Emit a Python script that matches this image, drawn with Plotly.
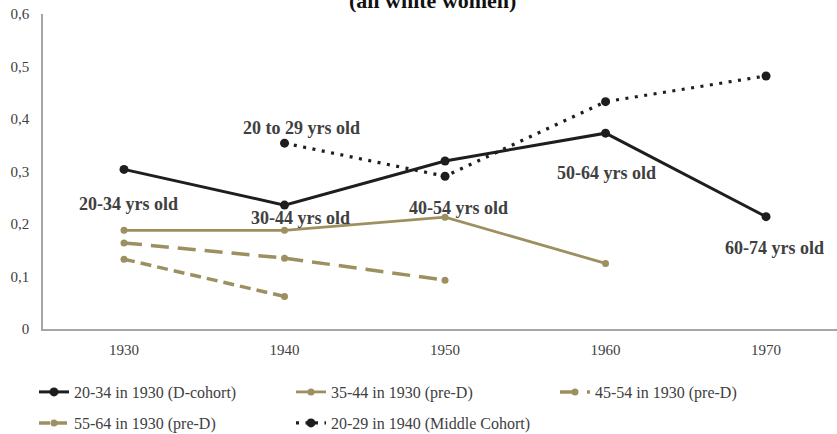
import plotly.graph_objects as go

years = [1930, 1940, 1950, 1960, 1970]

d_cohort = [0.304, 0.236, 0.320, 0.373, 0.214]
pre_d_35_44 = [0.188, 0.188, 0.213, 0.125]
pre_d_45_54 = [0.164, 0.135, 0.093]
pre_d_55_64 = [0.133, 0.062]
middle_years = [1940, 1950, 1960, 1970]
middle_cohort = [0.354, 0.291, 0.433, 0.482]

label_text = ["20 to 29 yrs old", "20-34 yrs old", "30-44 yrs old",
              "40-54 yrs old", "50-64 yrs old", "60-74 yrs old"]
label_x = [1941.03, 1930.25, 1940.97, 1950.84, 1960.03, 1970.53]
label_y = [0.383, 0.238, 0.211, 0.230, 0.297, 0.154]

BLACK = "#1e1e1e"
OLIVE = "#9d9060"
FONT = "Liberation Serif, Times New Roman, serif"

fig = go.Figure()
fig.add_trace(go.Scatter(x=years, y=d_cohort, name="20-34 in 1930 (D-cohort)",
                         mode="lines+markers", line=dict(color=BLACK, width=3),
                         marker=dict(size=9, color=BLACK), legend="legend"))
fig.add_trace(go.Scatter(x=years[:4], y=pre_d_35_44, name="35-44 in 1930 (pre-D)",
                         mode="lines+markers", line=dict(color=OLIVE, width=2.8),
                         marker=dict(size=7, color=OLIVE), legend="legend"))
fig.add_trace(go.Scatter(x=years[:3], y=pre_d_45_54, name="45-54 in 1930 (pre-D)",
                         mode="lines+markers", line=dict(color=OLIVE, width=3.5, dash="18px,9px"),
                         marker=dict(size=7, color=OLIVE), legend="legend3"))
fig.add_trace(go.Scatter(x=years[:2], y=pre_d_55_64, name="55-64 in 1930 (pre-D)",
                         mode="lines+markers", line=dict(color=OLIVE, width=3.5, dash="11px,6px"),
                         marker=dict(size=7, color=OLIVE), legend="legend2"))
fig.add_trace(go.Scatter(x=middle_years, y=middle_cohort, name="20-29 in 1940 (Middle Cohort)",
                         mode="lines+markers", line=dict(color=BLACK, width=3.2, dash="3px,6.5px"),
                         marker=dict(size=9, color=BLACK), legend="legend2"))

for t, x, y in zip(label_text, label_x, label_y):
    fig.add_annotation(x=x, y=y, text="<b>" + t + "</b>", showarrow=False,
                       font=dict(family=FONT, size=18, color="#404040"))

fig.add_annotation(xref="paper", yref="paper", x=0.491, y=1, yanchor="bottom", yshift=-1,
                   text="<b>(all white women)</b>", showarrow=False,
                   font=dict(family=FONT, size=22, color="#111111"))

legend_common = dict(orientation="h", xref="container", yref="container",
                     xanchor="left", yanchor="top", entrywidth=212, entrywidthmode="pixels",
                     font=dict(family=FONT, size=16, color="#404040"),
                     bgcolor="rgba(0,0,0,0)", itemclick=False, tracegroupgap=0)

fig.update_layout(
    width=837, height=434,
    margin=dict(l=43, r=0, t=14, b=105, autoexpand=False),
    paper_bgcolor="white", plot_bgcolor="white",
    separators=", ",
    font=dict(family=FONT, size=15, color="#404040"),
    showlegend=True,
    legend=dict(x=34 / 837, y=1 - 375 / 434, **legend_common),
    legend3=dict(x=555 / 837, y=1 - 375 / 434, **legend_common),
    legend2=dict(x=34 / 837, y=1 - 406 / 434, **legend_common),
    xaxis=dict(range=[1924.953, 1974.42], tickvals=years, showgrid=False, zeroline=False,
               showline=True, linecolor="#a6a6a6", linewidth=1.5, ticks="",
               ticklabelstandoff=6, tickfont=dict(family=FONT, size=15, color="#404040")),
    yaxis=dict(range=[0, 0.6], tickvals=[0, 0.1, 0.2, 0.3, 0.4, 0.5, 0.6], showgrid=False,
               zeroline=False, showline=True, linecolor="#a6a6a6", linewidth=1.5, ticks="",
               ticklabelstandoff=9, tickfont=dict(family=FONT, size=15, color="#404040")),
)

fig.write_html("out.html", config={"displayModeBar": False},
               post_script="document.body.style.margin='0';document.body.style.overflow='hidden';")
